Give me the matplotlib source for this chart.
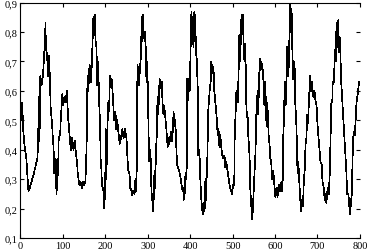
import numpy as np
import matplotlib
matplotlib.use("Agg")
import matplotlib.pyplot as plt
from matplotlib.ticker import FuncFormatter

# samples (index, value)
sample_idx = [0, 2, 4, 7, 10, 14, 17, 19, 22, 26, 30, 35, 40, 42, 43, 45, 47, 50, 52, 54,
              56, 58, 59, 60, 63, 65, 67, 70, 71, 75, 76, 78, 80, 83, 85, 87, 89, 90, 94, 95,
              99, 101, 104, 107, 109, 111, 112, 113, 117, 119, 122, 125, 128, 130, 134, 135, 139, 142, 145, 148,
              150, 153, 155, 157, 158, 160, 163, 166, 168, 170, 172, 173, 175, 177, 179, 180, 181, 183, 186, 188,
              189, 191, 192, 196, 197, 199, 200, 201, 202, 204, 205, 207, 209, 211, 213, 215, 217, 219, 221, 224,
              226, 228, 231, 234, 237, 240, 243, 246, 250, 252, 254, 257, 259, 261, 263, 266, 269, 271, 273, 274,
              275, 276, 279, 281, 284, 286, 287, 289, 290, 293, 296, 297, 299, 302, 303, 306, 308, 309, 311, 312,
              314, 316, 317, 320, 322, 323, 325, 328, 330, 333, 335, 337, 339, 344, 347, 349, 351, 355, 357, 359,
              361, 362, 365, 367, 369, 374, 378, 382, 384, 385, 387, 389, 390, 392, 393, 395, 397, 399, 401, 403,
              405, 407, 408, 410, 412, 414, 416, 418, 419, 422, 423, 426, 428, 430, 432, 434, 436, 437, 441, 442,
              446, 449, 450, 453, 455, 457, 462, 465, 467, 469, 471, 474, 477, 481, 483, 485, 488, 491, 494, 497,
              499, 501, 504, 505, 507, 509, 512, 514, 516, 518, 521, 522, 524, 526, 528, 530, 532, 533, 535, 537,
              540, 541, 542, 544, 546, 548, 550, 552, 554, 556, 559, 560, 562, 564, 566, 568, 571, 573, 575, 577,
              580, 582, 585, 587, 589, 591, 593, 596, 599, 601, 604, 606, 609, 612, 615, 617, 618, 619, 621, 623,
              625, 627, 629, 631, 633, 634, 636, 637, 639, 641, 643, 646, 648, 650, 652, 653, 655, 658, 660, 662,
              664, 666, 668, 670, 672, 674, 676, 678, 680, 683, 685, 687, 690, 693, 695, 698, 700, 702, 705, 707,
              710, 712, 715, 717, 719, 721, 724, 727, 729, 731, 733, 735, 736, 739, 741, 743, 745, 747, 749, 751,
              753, 756, 758, 760, 763, 765, 768, 770, 773, 775, 777, 779, 781, 783, 785, 788, 790, 792, 795, 798,
              800]
sample_val = [0.55, 0.50, 0.56, 0.46, 0.41, 0.37, 0.30, 0.26, 0.27, 0.29, 0.31, 0.34, 0.37, 0.43, 0.58, 0.43, 0.65, 0.62, 0.64, 0.67,
              0.73, 0.75, 0.83, 0.75, 0.72, 0.65, 0.72, 0.63, 0.55, 0.48, 0.45, 0.41, 0.32, 0.37, 0.25, 0.30, 0.33, 0.43, 0.46, 0.50,
              0.59, 0.55, 0.58, 0.56, 0.60, 0.55, 0.53, 0.50, 0.43, 0.40, 0.44, 0.40, 0.43, 0.40, 0.35, 0.32, 0.28, 0.29, 0.27, 0.29,
              0.28, 0.29, 0.36, 0.48, 0.65, 0.60, 0.69, 0.63, 0.68, 0.77, 0.85, 0.80, 0.86, 0.77, 0.75, 0.70, 0.62, 0.70, 0.55, 0.47,
              0.37, 0.33, 0.28, 0.26, 0.20, 0.24, 0.29, 0.47, 0.30, 0.38, 0.47, 0.56, 0.53, 0.65, 0.62, 0.64, 0.60, 0.55, 0.50, 0.53,
              0.47, 0.50, 0.46, 0.42, 0.44, 0.47, 0.44, 0.47, 0.44, 0.38, 0.33, 0.32, 0.27, 0.265, 0.245, 0.26, 0.25, 0.30, 0.26, 0.33,
              0.55, 0.69, 0.62, 0.66, 0.72, 0.85, 0.77, 0.86, 0.78, 0.80, 0.73, 0.63, 0.70, 0.47, 0.36, 0.40, 0.34, 0.23, 0.25, 0.19,
              0.23, 0.33, 0.27, 0.41, 0.47, 0.58, 0.52, 0.64, 0.61, 0.63, 0.56, 0.52, 0.55, 0.47, 0.41, 0.44, 0.42, 0.46, 0.43, 0.46,
              0.53, 0.48, 0.50, 0.42, 0.35, 0.33, 0.30, 0.26, 0.27, 0.23, 0.25, 0.32, 0.30, 0.34, 0.64, 0.57, 0.64, 0.60, 0.74, 0.87,
              0.76, 0.85, 0.75, 0.87, 0.84, 0.73, 0.70, 0.60, 0.38, 0.40, 0.33, 0.24, 0.20, 0.18, 0.22, 0.19, 0.30, 0.23, 0.39, 0.52,
              0.60, 0.64, 0.70, 0.66, 0.68, 0.60, 0.52, 0.45, 0.47, 0.41, 0.45, 0.40, 0.37, 0.38, 0.34, 0.36, 0.33, 0.30, 0.27, 0.26,
              0.25, 0.28, 0.28, 0.45, 0.52, 0.60, 0.56, 0.65, 0.79, 0.70, 0.86, 0.81, 0.86, 0.76, 0.70, 0.76, 0.60, 0.51, 0.53, 0.45,
              0.38, 0.32, 0.26, 0.21, 0.165, 0.20, 0.27, 0.33, 0.39, 0.52, 0.60, 0.52, 0.60, 0.71, 0.67, 0.70, 0.67, 0.63, 0.55, 0.63,
              0.48, 0.56, 0.45, 0.42, 0.37, 0.36, 0.30, 0.33, 0.27, 0.24, 0.27, 0.24, 0.28, 0.26, 0.29, 0.26, 0.29, 0.43, 0.50, 0.63,
              0.55, 0.63, 0.75, 0.65, 0.70, 0.79, 0.90, 0.80, 0.88, 0.73, 0.64, 0.70, 0.55, 0.50, 0.40, 0.32, 0.36, 0.27, 0.22, 0.19,
              0.23, 0.21, 0.30, 0.33, 0.42, 0.44, 0.52, 0.49, 0.57, 0.65, 0.60, 0.63, 0.58, 0.60, 0.57, 0.55, 0.49, 0.45, 0.40, 0.36,
              0.35, 0.29, 0.27, 0.23, 0.25, 0.22, 0.27, 0.25, 0.32, 0.45, 0.57, 0.56, 0.63, 0.63, 0.74, 0.70, 0.83, 0.75, 0.84, 0.73,
              0.78, 0.63, 0.58, 0.53, 0.46, 0.40, 0.33, 0.25, 0.25, 0.21, 0.18, 0.22, 0.25, 0.38, 0.46, 0.45, 0.50, 0.56, 0.59, 0.63,
              0.63]

x_ticks = [0, 100, 200, 300, 400, 500, 600, 700, 800]
y_ticks = [0.1, 0.2, 0.3, 0.4, 0.5, 0.6, 0.7, 0.8, 0.9]

fig = plt.figure(figsize=(3.71, 2.53), dpi=100)
ax = fig.add_axes([0.055, 0.055, 0.915, 0.931])

# thin aliased trace, like the old print
ax.plot(sample_idx, sample_val, color='black', lw=0.5, antialiased=False)

ax.set_xlim(0, 800)
ax.set_ylim(0.1, 0.9)
ax.set_xticks(x_ticks)
ax.set_yticks(y_ticks)
ax.yaxis.set_major_formatter(FuncFormatter(lambda v, p: ('%.1f' % v).replace('.', ',')))

ax.tick_params(direction='in', length=3, width=0.8, top=True, right=True,
               labelsize=7.5, pad=2)
for lab in ax.get_xticklabels() + ax.get_yticklabels():
    lab.set_fontfamily('Liberation Serif')
ax.spines['right'].set_visible(False)
for s in ['left', 'top', 'bottom']:
    ax.spines[s].set_linewidth(0.8)

fig.savefig('out.png', dpi=100)
